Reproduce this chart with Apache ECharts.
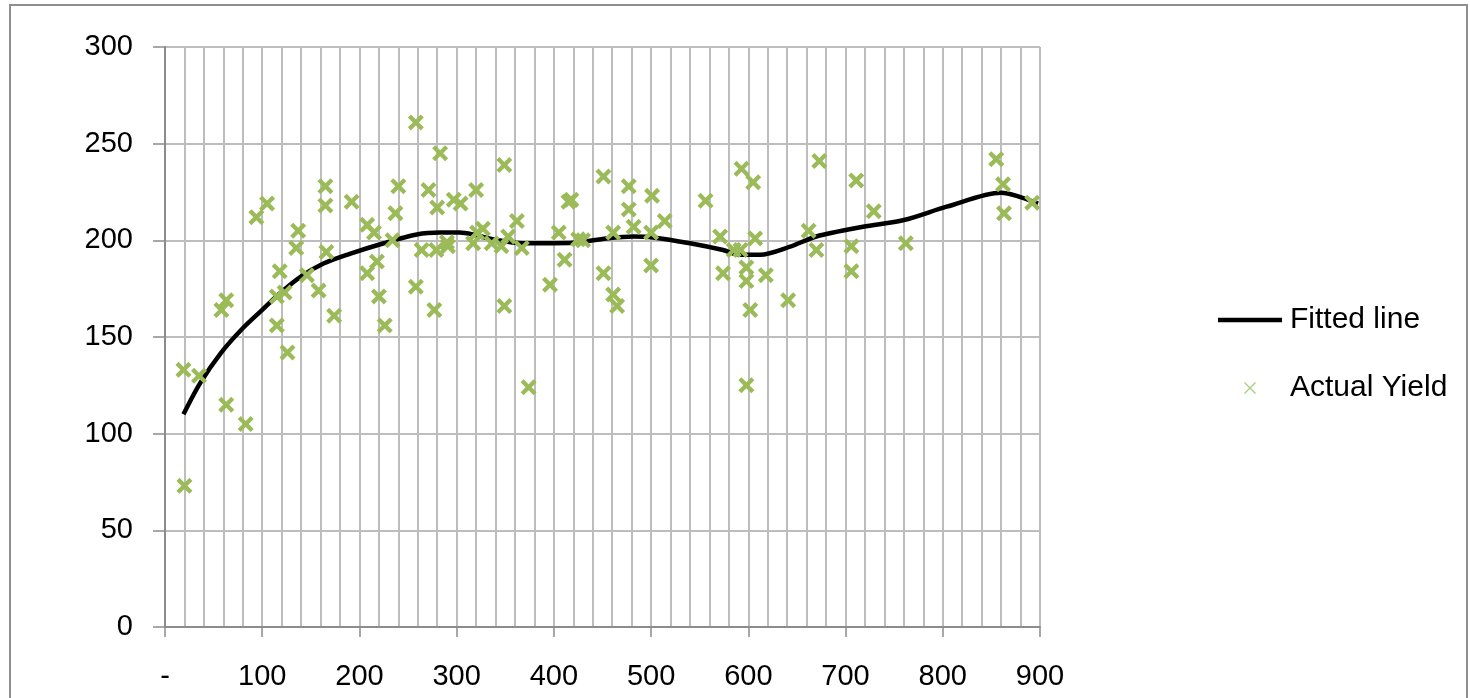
<!DOCTYPE html>
<html>
<head>
<meta charset="utf-8">
<script src="https://cdn.jsdelivr.net/npm/echarts@6/dist/echarts.min.js"></script>
<style>
html,body{margin:0;padding:0;background:#fff;}
#chart{position:absolute;left:0;top:0;width:1470px;height:698px;}
#frame{position:absolute;left:9px;top:4px;width:1455px;height:720px;border:2px solid #8f8f8f;pointer-events:none;}
</style>
</head>
<body>
<div id="chart"></div>
<div id="frame"></div>
<script>
// Fitted line (x, y)
const fittedX = [19, 36, 58, 80, 100, 118, 139, 163, 190, 225, 259, 283, 303, 317, 338, 368, 420, 454, 482, 502, 540, 574, 591, 612, 643, 670, 718, 760, 804, 860, 876, 898];
const fittedY = [110, 126, 142, 154.5, 164, 172.5, 181, 188, 193, 198.5, 203, 204, 204, 203, 200.5, 198.5, 198.8, 201, 202, 201.5, 198.5, 195, 192.5, 192.5, 196.7, 202, 207, 210.5, 217.4, 224.6, 223, 219];

// Actual yield observations (x, y)
const actualX = [19, 20, 35, 58, 63, 63, 83, 94, 105, 115, 115, 118, 123, 126, 135, 137, 146, 158, 165, 165, 166, 174, 192, 208, 208, 215, 218, 220, 226, 234, 237, 240, 258, 258, 264, 271, 277, 279, 280, 283, 290, 291, 297, 304, 317, 320, 321, 327, 336, 346, 349, 349, 353, 362, 367, 374, 396, 405, 411, 415, 418, 425, 430, 451, 451, 461, 461, 465, 477, 477, 482, 500, 500, 501, 514, 556, 571, 574, 585, 592, 593, 598, 598, 598, 602, 605, 607, 618, 641, 662, 670, 673, 706, 706, 711, 729, 762, 855, 862, 863, 892];
const actualY = [133, 73, 130, 164, 169, 115, 105, 212, 219, 171, 156, 184, 173, 142, 196, 205, 182, 174, 228, 218, 194, 161, 220, 208, 183, 204, 189, 171, 156, 200, 214, 228, 261, 176, 195, 226, 164, 195, 217, 245, 199, 197, 221, 219, 198.5, 226, 204, 206, 198.5, 197, 239, 166, 202, 210, 196, 124, 177, 204, 190, 220, 221, 200.5, 200, 233, 183, 204, 172, 166, 228, 216, 207, 204, 187, 223, 210, 220.5, 202, 183, 195, 195, 237, 186, 179, 125, 164, 230, 201, 182, 169, 205, 195, 241, 197, 184, 231, 215, 198.5, 242, 229, 214, 219.5];

const seriesNames = ['Fitted line', 'Actual Yield'];
const xTickLabels = ['-', '100', '200', '300', '400', '500', '600', '700', '800', '900'];

const FONT = '"Liberation Sans", Arial, sans-serif';
const X_PATH = 'path://M0,1.9L1.9,0L5,3.1L8.1,0L10,1.9L6.9,5L10,8.1L8.1,10L5,6.9L1.9,10L0,8.1L3.1,5Z';
const X_THIN = 'path://M0,0.8L0.8,0L5,4.2L9.2,0L10,0.8L5.8,5L10,9.2L9.2,10L5,5.8L0.8,10L0,9.2L4.2,5Z';
const LINE_ICON = 'path://M0,0L64,0L64,4.5L0,4.5Z';

const chart = echarts.init(document.getElementById('chart'), null, {renderer: 'canvas'});
const gridColor = '#bdbdbd';
chart.setOption({
  animation: false,
  backgroundColor: '#ffffff',
  grid: {left: 165, right: 430, top: 47, bottom: 71, containLabel: false},
  legend: {
    orient: 'vertical',
    left: 1218,
    top: 300,
    padding: 0,
    itemWidth: 64,
    itemHeight: 12,
    itemGap: 28,
    textStyle: {fontFamily: FONT, fontSize: 30, color: '#000', lineHeight: 40, padding: [0, 0, 0, 3]},
    data: [
      {name: seriesNames[0], icon: LINE_ICON, itemStyle: {color: '#000'}},
      {name: seriesNames[1], icon: X_THIN, itemStyle: {color: '#a9cd85'}}
    ]
  },
  xAxis: {
    type: 'value',
    min: 0, max: 900, interval: 100,
    axisLine: {show: true, lineStyle: {color: '#8c8c8c', width: 2}},
    axisTick: {show: true, length: 10, lineStyle: {color: '#8c8c8c', width: 1.5}},
    minorTick: {show: false, splitNumber: 5},
    splitLine: {show: true, lineStyle: {color: gridColor, width: 2}},
    minorSplitLine: {show: true, lineStyle: {color: gridColor, width: 2}},
    axisLabel: {
      margin: 35, fontFamily: FONT, fontSize: 29, color: '#000',
      formatter: function (v) { const i = Math.round(v / 100); return xTickLabels[i] !== undefined ? xTickLabels[i] : ''; }
    }
  },
  yAxis: {
    type: 'value',
    min: 0, max: 300, interval: 50,
    axisLine: {show: true, lineStyle: {color: '#8c8c8c', width: 2}},
    axisTick: {show: true, length: 12, lineStyle: {color: '#8c8c8c', width: 1.5}},
    splitLine: {show: true, lineStyle: {color: gridColor, width: 2}},
    axisLabel: {margin: 32, fontFamily: FONT, fontSize: 29, color: '#000'}
  },
  series: [
    {
      name: seriesNames[0],
      type: 'line',
      data: fittedX.map((x, i) => [x, fittedY[i]]),
      smooth: 0.3,
      symbol: 'none',
      z: 3,
      lineStyle: {color: '#000', width: 4.5},
      itemStyle: {color: '#000'}
    },
    {
      name: seriesNames[1],
      type: 'scatter',
      data: actualX.map((x, i) => [x, actualY[i]]),
      symbol: X_PATH,
      symbolSize: 16,
      z: 4,
      itemStyle: {color: '#9bbb59', opacity: 1}
    }
  ]
});
</script>
</body>
</html>
